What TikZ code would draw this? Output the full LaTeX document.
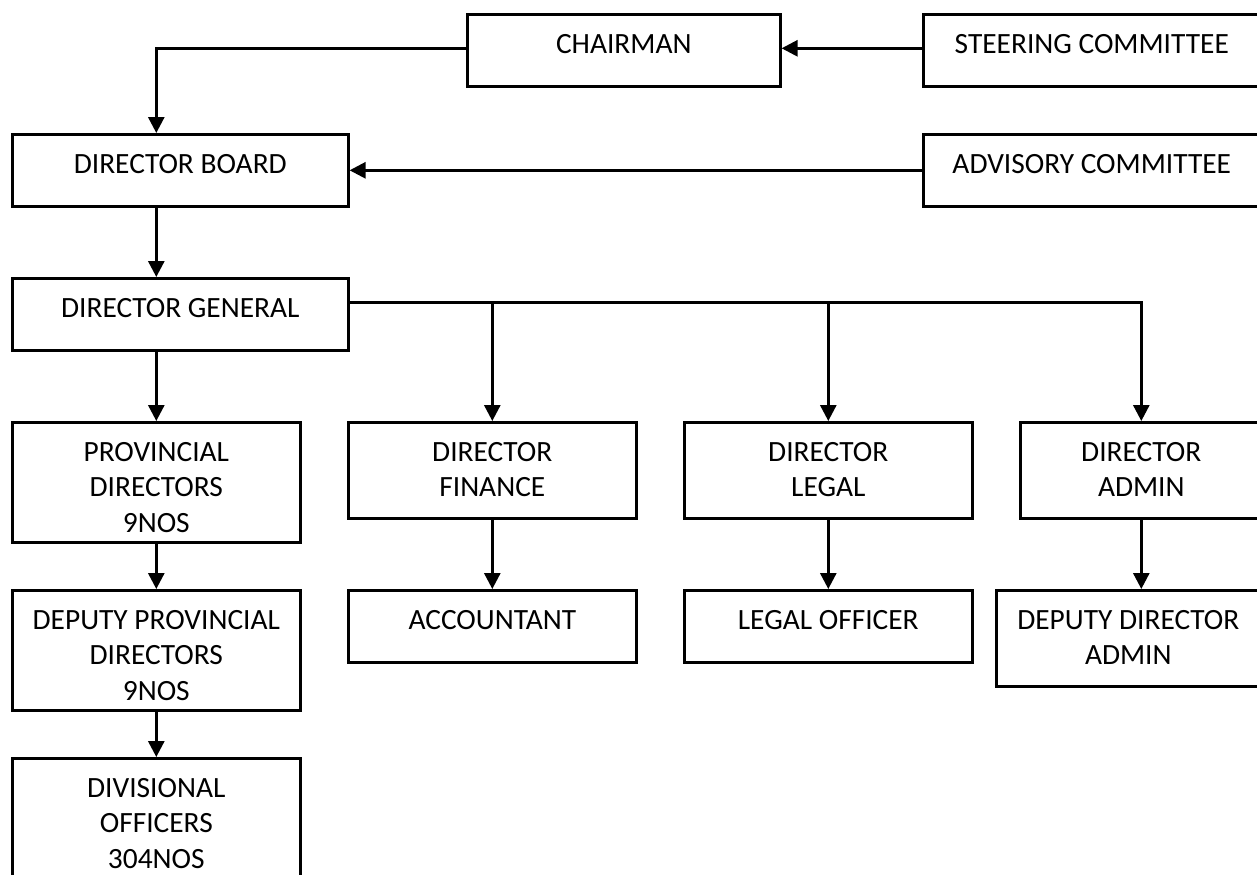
\documentclass[tikz,border=0pt]{standalone}
\usepackage{fontspec}
\setmainfont{Carlito}
\usetikzlibrary{arrows.meta,calc}
\begin{document}
\begin{tikzpicture}[x=0.5pt,y=-0.5pt,
  box/.style={draw=black,line width=1.3pt,rectangle,inner sep=0pt,anchor=north west},
  lbl/.style={anchor=north,inner sep=0pt,align=center,font=\fontsize{14.7pt}{17.7pt}\selectfont},
  conn/.style={line width=1.4pt,-{Triangle[length=8pt,width=8pt]}},
  plain/.style={line width=1.4pt}]
\useasboundingbox (0,0) rectangle (1257,874);
% boxes: position = top-left corner in px
\newcommand{\orgbox}[6]{%
  \node[box,minimum width=#4*0.5pt,minimum height=#5*0.5pt] (#1) at (#2,#3) {};
  \node[lbl] (#1t) at ($(#1.north)+(0,21)$) {#6};}
\orgbox{chair}{466}{13}{313}{72}{CHAIRMAN}
\orgbox{steer}{922}{13}{337}{72}{STEERING COMMITTEE}
\orgbox{board}{11}{133}{336}{72}{DIRECTOR BOARD}
\orgbox{adv}{922}{133}{337}{72}{ADVISORY COMMITTEE}
\orgbox{dg}{11}{277}{336}{72}{DIRECTOR GENERAL}
\orgbox{prov}{11}{421}{288}{120}{PROVINCIAL\\DIRECTORS\\9NOS}
\orgbox{fin}{347}{421}{288}{96}{DIRECTOR\\FINANCE}
\orgbox{legal}{683}{421}{288}{96}{DIRECTOR\\LEGAL}
\orgbox{admin}{1019}{421}{242}{96}{DIRECTOR\\ADMIN}
\orgbox{dprov}{11}{589}{288}{120}{DEPUTY PROVINCIAL\\DIRECTORS\\9NOS}
\orgbox{acc}{347}{589}{288}{72}{ACCOUNTANT}
\orgbox{lo}{683}{589}{288}{72}{LEGAL OFFICER}
\orgbox{dda}{995}{589}{264}{96}{DEPUTY DIRECTOR\\ADMIN}
\orgbox{div}{11}{757}{288}{130}{DIVISIONAL\\OFFICERS\\304NOS}
% connectors
\coordinate (chairout) at ($(chair.west)+(0,-2)$);
\coordinate (steerout) at ($(steer.west)+(0,-2)$);
\draw[conn] (chairout) -| (prov.north |- board.north);
\draw[conn] (steerout) -- (chairout -| chair.east);
\draw[conn] (adv.west) -- (board.east);
\draw[conn] (prov.north |- board.south) -- (prov.north |- dg.north);
\coordinate (dgout) at ($(dg.east)+(0,-12)$);
\draw[plain] (dgout) -- (dgout -| fin.north);
\draw[conn] (dgout -| fin.north) -- (fin.north);
\draw[plain] (dgout -| fin.north) -- (dgout -| legal.north);
\draw[conn] (dgout -| legal.north) -- (legal.north);
\draw[conn] (dgout -| legal.north) -| (admin.north);
\draw[conn] (prov.north |- dg.south) -- (prov.north);
\draw[conn] (prov.south) -- (dprov.north);
\draw[conn] (dprov.south) -- (div.north);
\draw[conn] (fin.south) -- (acc.north);
\draw[conn] (legal.south) -- (lo.north);
\draw[conn] (admin.south) -- (admin.south |- dda.north);
\end{tikzpicture}
\end{document}
